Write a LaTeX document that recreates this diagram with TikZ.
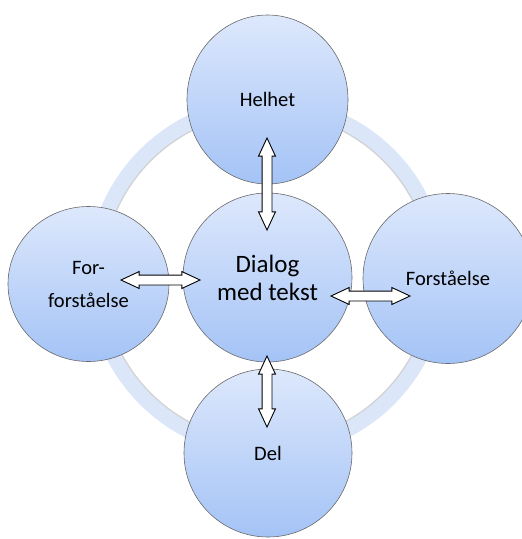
\documentclass[tikz,border=0pt]{standalone}
\usepackage{fontspec}
\setmainfont{Carlito}
\usetikzlibrary{shapes.geometric, shapes.arrows}
\definecolor{ringblue}{RGB}{220,230,249}
\definecolor{balltop}{RGB}{221,232,252}
\definecolor{ballbottom}{RGB}{164,195,246}
\definecolor{rim}{RGB}{105,105,105}
\tikzset{every picture/.style = {x=1pt, y=-1pt}}
\tikzset{ball/.style = {ellipse, draw=rim, line width=0.6pt, top color=balltop,
    bottom color=ballbottom, inner sep=0, align=center,
    font=\fontsize{20.5}{33}\selectfont}}
\tikzset{both/.style = {double arrow, draw, fill=white, line width=0.9pt,
    inner sep=0, inner ysep=4.5pt, double arrow head extend=3.5pt,
    double arrow tip angle=50}}

\begin{document}
\begin{tikzpicture}
  \useasboundingbox (0, 0) rectangle (522, 539);
  \draw[ringblue, line width=15pt] (267, 277) circle[radius=172.5pt];
  \draw[gray, opacity=0.35, line width=1.2pt] (267, 277) circle[radius=164.4pt];
  \node[ball, minimum width=161pt, minimum height=169pt] (helhet) at (267.5, 99.5) {Helhet};
  \node[ball, minimum width=161pt, minimum height=155pt] (forfor) at (88.5, 284) {For-\\forståelse};
  \node[ball, minimum width=170pt, minimum height=170pt] (forst) at (448, 278.5) {Forståelse};
  \node[ball, minimum width=168pt, minimum height=168pt] (del) at (268, 453) {Del};
  \node[ball, minimum width=169pt, minimum height=169pt,
    font=\fontsize{25}{28}\selectfont] (dialog) at (267.5, 277.5) {Dialog\\med tekst};
  \node[both, minimum height=92pt, rotate=90] (up) at (267, 184) {};
  \node[both, minimum height=71pt, rotate=90] (down) at (267, 391.5) {};
  \node[both, minimum height=79pt] (left) at (160.5, 280) {};
  \node[both, minimum height=79pt] (right) at (370.5, 296) {};
\end{tikzpicture}
\end{document}
